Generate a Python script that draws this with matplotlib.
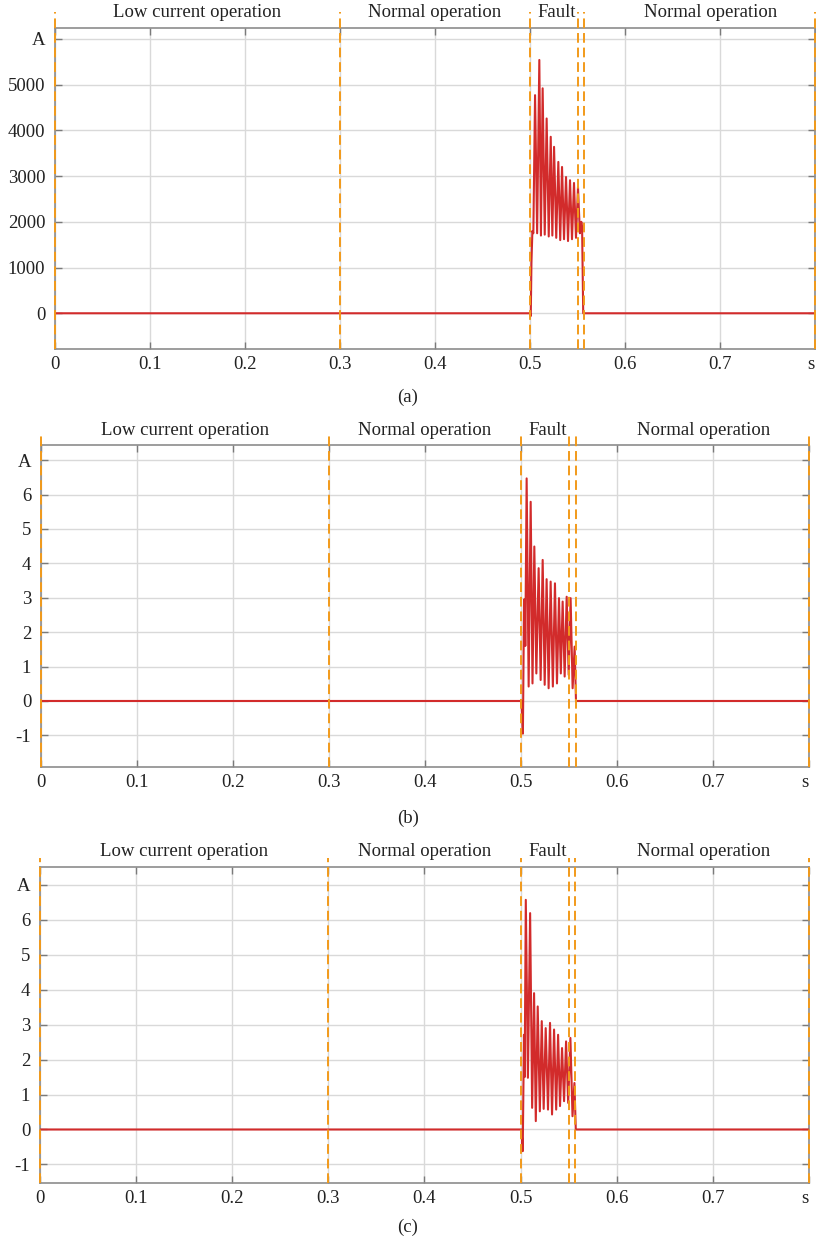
import matplotlib
matplotlib.use("Agg")
import matplotlib.pyplot as plt
from matplotlib.transforms import ScaledTranslation

plt.rcParams['font.family'] = ['Liberation Serif', 'DejaVu Serif']

# time axis ticks (last one is labelled with the unit)
x_ticks = [0, 0.1, 0.2, 0.3, 0.4, 0.5, 0.6, 0.7, 0.8]
x_labels = ['0', '0.1', '0.2', '0.3', '0.4', '0.5', '0.6', '0.7', 's']

# instants separating the operating regions
events = [0, 0.3, 0.5, 0.55, 0.557, 0.8]
region_names = ['Low current operation', 'Normal operation', 'Fault', 'Normal operation']
region_x = [0.15, 0.4, 0.528, 0.69]

# (a) current waveform vertices
t_a = [0.0, 0.5, 0.5008, 0.5015, 0.5025, 0.5035, 0.5053, 0.5075, 0.5098, 0.5115,
       0.5133, 0.5155, 0.5175, 0.5197, 0.5218, 0.5235, 0.5253, 0.5276, 0.5298, 0.5318,
       0.5337, 0.5358, 0.5379, 0.5400, 0.5421, 0.5442, 0.5463, 0.5484, 0.5505, 0.5525,
       0.5540, 0.5548, 0.5560, 0.8]
i_a = [0, 0, -60, 1100, 1800, 1750, 4770, 1750, 5540, 1700,
       4920, 1720, 4260, 1680, 3860, 1700, 3640, 1650, 3310, 1600,
       3200, 1620, 2980, 1580, 2910, 1620, 2850, 1650, 2760, 1750,
       2000, 1900, 0, 0]
y_ticks_a = [0, 1000, 2000, 3000, 4000, 5000, 6000]
y_labels_a = ['0', '1000', '2000', '3000', '4000', '5000', 'A']

# (b) current waveform vertices
t_b = [0.0, 0.5005, 0.5020, 0.5032, 0.5040, 0.5045, 0.5059, 0.5080, 0.5101, 0.5120,
       0.5139, 0.5160, 0.5184, 0.5205, 0.5226, 0.5247, 0.5267, 0.5288, 0.5309, 0.5332,
       0.5354, 0.5375, 0.5396, 0.5415, 0.5434, 0.5455, 0.5476, 0.5497, 0.5517, 0.5538,
       0.5559, 0.5573, 0.8]
i_b = [0, 0, -0.95, 2.95, 2.95, 1.6, 6.47, 0.42, 5.79, 0.51,
       4.49, 0.80, 3.86, 0.61, 4.10, 0.47, 3.54, 0.37, 3.47, 0.42,
       3.42, 0.51, 2.99, 0.80, 2.89, 0.71, 3.03, 0.76, 2.99, 0.37,
       1.58, 0, 0]

# (c) current waveform vertices
t_c = [0.0, 0.5010, 0.5022, 0.5035, 0.5042, 0.5054, 0.5076, 0.5099, 0.5120, 0.5140,
       0.5158, 0.5178, 0.5200, 0.5220, 0.5240, 0.5261, 0.5285, 0.5306, 0.5327, 0.5348,
       0.5370, 0.5390, 0.5410, 0.5431, 0.5452, 0.5473, 0.5495, 0.5518, 0.5540, 0.5560,
       0.5574, 0.8]
i_c = [0, 0, -0.62, 2.71, 1.5, 6.57, 1.48, 6.19, 0.62, 3.90,
       0.24, 3.52, 0.52, 3.10, 0.59, 2.90, 0.57, 3.05, 0.43, 2.86,
       0.57, 2.71, 0.67, 2.33, 0.81, 2.52, 0.76, 2.62, 0.38, 1.33,
       0, 0]
y_ticks_bc = [-1, 0, 1, 2, 3, 4, 5, 6, 7]
y_labels_bc = ['-1', '0', '1', '2', '3', '4', '5', '6', 'A']

panels = [
    dict(rect=[0.0674, 0.7204, 0.9314, 0.2572], t=t_a, i=i_a, ylim=(-780, 6240),
         yt=y_ticks_a, yl=y_labels_a, ext=1.05, cap='(a)', cap_y=0.6819),
    dict(rect=[0.0502, 0.3854, 0.9412, 0.2580], t=t_b, i=i_b, ylim=(-1.92, 7.44),
         yt=y_ticks_bc, yl=y_labels_bc, ext=1.03, cap='(b)', cap_y=0.3446),
    dict(rect=[0.0490, 0.0521, 0.9424, 0.2532], t=t_c, i=i_c, ylim=(-1.53, 7.51),
         yt=y_ticks_bc, yl=y_labels_bc, ext=1.03, cap='(c)', cap_y=0.0168),
]

fig = plt.figure(figsize=(8.16, 12.48), dpi=100)

for p in panels:
    ax = fig.add_axes(p['rect'])
    ax.set_xlim(0, 0.8)
    ax.set_ylim(*p['ylim'])
    ax.grid(True, color='#d9d9d9', lw=1.0)
    ax.set_axisbelow(True)
    for s in ax.spines.values():
        s.set_color('#8c8c8c')
        s.set_linewidth(1.2)

    ax.plot(p['t'], p['i'], color='#d22b2b', lw=1.5, zorder=3)

    for ev in events:
        ax.axvline(ev, ymin=0, ymax=p['ext'], color='#f29a1a', lw=1.4,
                   ls=(0, (5, 2.5)), clip_on=False, zorder=4)

    for name, xc in zip(region_names, region_x):
        ax.text(xc, 1.0 + 15 / (p['rect'][3] * 1248), name, ha='center', va='center',
                fontsize=13.5, color='#222222',
                transform=ax.get_xaxis_transform())

    ax.set_xticks(x_ticks)
    ax.set_xticklabels(x_labels)
    ax.set_yticks(p['yt'])
    ax.set_yticklabels(p['yl'])
    ax.tick_params(direction='in', top=True, right=True, length=5, width=1,
                   color='#7a7a7a', labelsize=13.5, labelcolor='#222222')
    ax.tick_params(axis='y', pad=7)
    ax.tick_params(axis='x', pad=5)

    # keep the unit label inside the figure when the axes touches the edge
    last = ax.get_xticklabels()[-1]
    last.set_transform(last.get_transform() + ScaledTranslation(-4 / 100, 0, fig.dpi_scale_trans))

    fig.text(0.5, p['cap_y'], p['cap'], ha='center', va='center', fontsize=13.5,
             color='#222222')

fig.savefig('out.png', dpi=100)
